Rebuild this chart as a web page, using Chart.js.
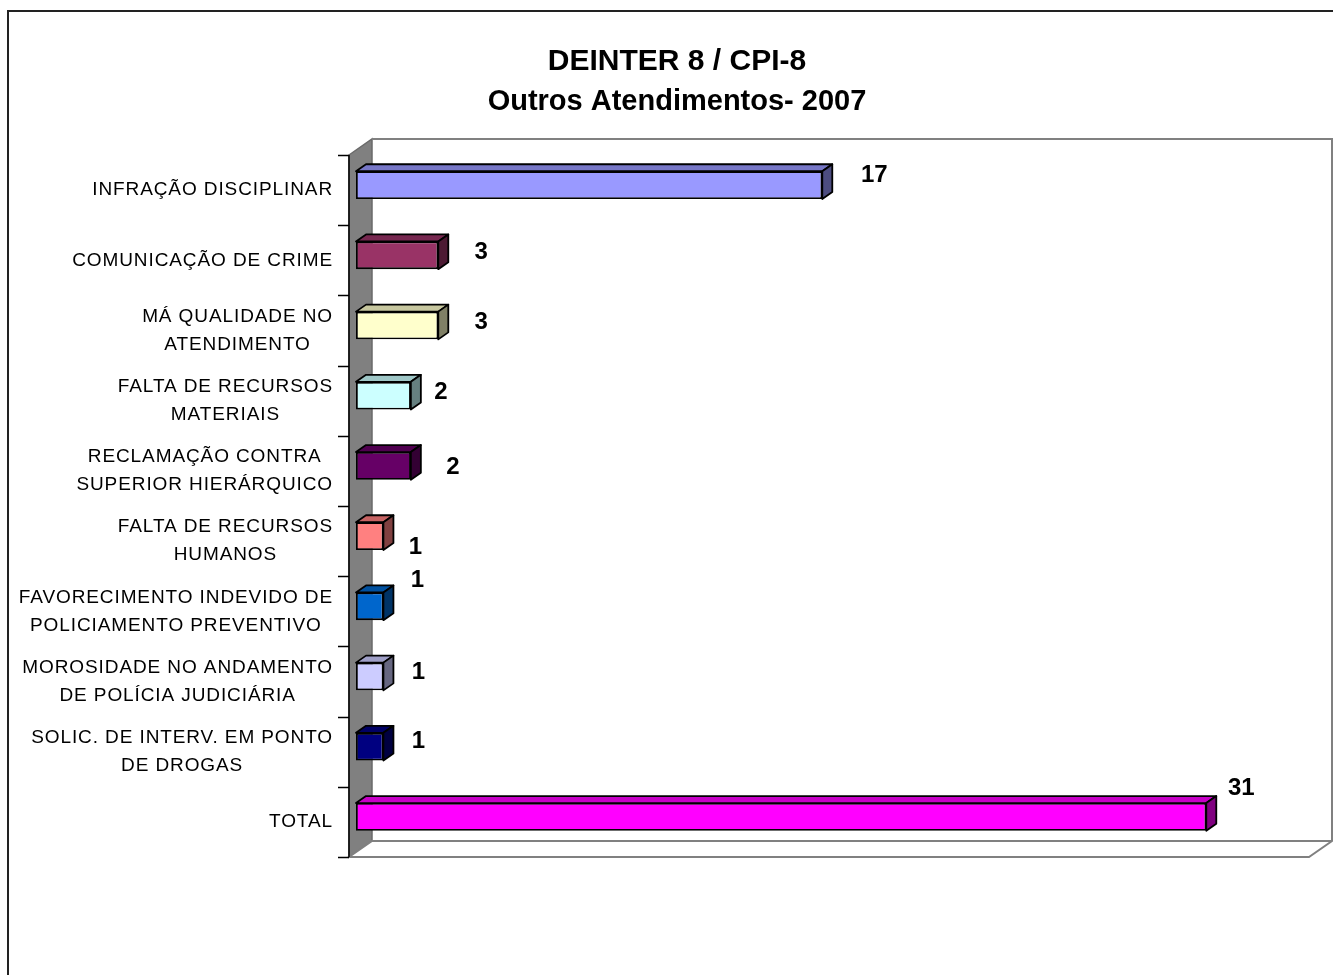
<!DOCTYPE html>
<html>
<head>
<meta charset="utf-8">
<script src="https://cdn.jsdelivr.net/npm/chart.js@4.4.0/dist/chart.umd.min.js"></script>
<style>
  html, body { margin: 0; padding: 0; background: #fff; }
  #grafico { display: block; }
</style>
</head>
<body>
<canvas id="grafico" width="1333" height="975"></canvas>
<script>
// Dados do gráfico
var tituloLinhas = ['DEINTER 8 / CPI-8', 'Outros Atendimentos- 2007'];
var categorias = [
  'INFRAÇÃO DISCIPLINAR',
  'COMUNICAÇÃO DE CRIME',
  ['MÁ QUALIDADE NO', 'ATENDIMENTO'],
  ['FALTA DE RECURSOS', 'MATERIAIS'],
  ['RECLAMAÇÃO CONTRA', 'SUPERIOR HIERÁRQUICO'],
  ['FALTA DE RECURSOS', 'HUMANOS'],
  ['FAVORECIMENTO INDEVIDO DE', 'POLICIAMENTO PREVENTIVO'],
  ['MOROSIDADE NO ANDAMENTO', 'DE POLÍCIA JUDICIÁRIA'],
  ['SOLIC. DE INTERV. EM PONTO', 'DE DROGAS'],
  'TOTAL'
];
var valores = [17, 3, 3, 2, 2, 1, 1, 1, 1, 31];

// Cores das barras (estilo do Excel)
var coresBarras = ['#9999FF', '#993366', '#FFFFCC', '#CCFFFF', '#660066',
  '#FF8080', '#0066CC', '#CCCCFF', '#000080', '#FF00FF'];

// Deslocamento dos rótulos de valor a partir do fim da barra (layout, px)
var ajusteRotulos = [[52, -10], [43, -3], [43, -3], [30, -3], [42, 1],
  [32, 11], [34, -26], [35, -4], [35, -5], [35, -29]];

// Profundidade das paredes, das barras e recuo das barras
var PROF = { dx: 23, dy: -16 };
var BARRA = { dx: 10, dy: -7 };
var RECUO = { dx: 7, dy: -5 };

var FONTE = '"Liberation Sans", Arial, sans-serif';

// Escurece uma cor hex por um fator
function escurecer(hex, f) {
  var n = parseInt(hex.slice(1), 16);
  var r = Math.round(((n >> 16) & 255) * f);
  var g = Math.round(((n >> 8) & 255) * f);
  var b = Math.round((n & 255) * f);
  return 'rgb(' + r + ',' + g + ',' + b + ')';
}

// Plugin que desenha o cenário 3D, faces das barras e os textos
var cenario3d = {
  id: 'cenario3d',
  beforeDraw: function(chart) {
    var ctx = chart.ctx, a = chart.chartArea;
    ctx.save();
    ctx.fillStyle = '#fff';
    ctx.fillRect(0, 0, chart.width, chart.height);
    // moldura externa
    ctx.strokeStyle = '#222';
    ctx.lineWidth = 2;
    ctx.strokeRect(8, 11, 2000, 2000);
    // parede esquerda (cinza)
    ctx.beginPath();
    ctx.moveTo(a.left, a.top);
    ctx.lineTo(a.left + PROF.dx, a.top + PROF.dy);
    ctx.lineTo(a.left + PROF.dx, a.bottom + PROF.dy);
    ctx.lineTo(a.left, a.bottom);
    ctx.closePath();
    ctx.fillStyle = '#808080';
    ctx.fill();
    ctx.strokeStyle = '#6a6a6a';
    ctx.lineWidth = 1.5;
    ctx.stroke();
    // parede do fundo
    ctx.strokeStyle = '#808080';
    ctx.lineWidth = 2;
    ctx.beginPath();
    ctx.moveTo(a.left + PROF.dx, a.top + PROF.dy);
    ctx.lineTo(a.right + PROF.dx, a.top + PROF.dy);
    ctx.lineTo(a.right + PROF.dx, a.bottom + PROF.dy);
    ctx.stroke();
    // piso
    ctx.beginPath();
    ctx.moveTo(a.left, a.bottom);
    ctx.lineTo(a.right, a.bottom);
    ctx.lineTo(a.right + PROF.dx, a.bottom + PROF.dy);
    ctx.lineTo(a.left + PROF.dx, a.bottom + PROF.dy);
    ctx.closePath();
    ctx.fillStyle = '#fff';
    ctx.fill();
    ctx.stroke();
    ctx.restore();
  },
  beforeDatasetsDraw: function(chart) {
    chart.ctx.save();
    chart.ctx.translate(RECUO.dx, RECUO.dy);
  },
  afterDatasetsDraw: function(chart) {
    var ctx = chart.ctx;
    var meta = chart.getDatasetMeta(0);
    ctx.lineWidth = 1.8;
    ctx.strokeStyle = '#000';
    ctx.lineJoin = 'round';
    meta.data.forEach(function(bar, i) {
      var p = bar.getProps(['x', 'y', 'base', 'height'], true);
      var x0 = p.base, x1 = p.x;
      var y0 = p.y - p.height / 2, y1 = p.y + p.height / 2;
      // topo
      ctx.beginPath();
      ctx.moveTo(x0, y0);
      ctx.lineTo(x0 + BARRA.dx, y0 + BARRA.dy);
      ctx.lineTo(x1 + BARRA.dx, y0 + BARRA.dy);
      ctx.lineTo(x1, y0);
      ctx.closePath();
      ctx.fillStyle = escurecer(coresBarras[i], 0.78);
      ctx.fill();
      ctx.stroke();
      // lado
      ctx.beginPath();
      ctx.moveTo(x1, y0);
      ctx.lineTo(x1 + BARRA.dx, y0 + BARRA.dy);
      ctx.lineTo(x1 + BARRA.dx, y1 + BARRA.dy);
      ctx.lineTo(x1, y1);
      ctx.closePath();
      ctx.fillStyle = escurecer(coresBarras[i], 0.5);
      ctx.fill();
      ctx.stroke();
    });
    ctx.restore();
  },
  afterDraw: function(chart) {
    var ctx = chart.ctx, a = chart.chartArea, escalaY = chart.scales.y;
    var meta = chart.getDatasetMeta(0);
    ctx.save();
    // eixo e marcas
    ctx.strokeStyle = '#000';
    ctx.lineWidth = 1.5;
    ctx.beginPath();
    ctx.moveTo(a.left, a.top);
    ctx.lineTo(a.left, a.bottom);
    for (var k = 0; k <= categorias.length; k++) {
      var yt = Math.round(escalaY.getPixelForValue(k - 0.5)) + 0.5;
      ctx.moveTo(a.left - 11, yt);
      ctx.lineTo(a.left, yt);
    }
    ctx.stroke();

    // rótulos das categorias (linhas centradas, bloco alinhado à direita)
    ctx.fillStyle = '#000';
    ctx.textAlign = 'center';
    ctx.textBaseline = 'middle';
    ctx.font = '19px ' + FONTE;
    ctx.letterSpacing = '0.9px';
    categorias.forEach(function(rot, i) {
      var linhas = Array.isArray(rot) ? rot : [rot];
      var larg = Math.max.apply(null, linhas.map(function(l) { return ctx.measureText(l).width; }));
      var cx = a.left - 16 - larg / 2;
      var cy = escalaY.getPixelForValue(i);
      linhas.forEach(function(l, j) {
        ctx.fillText(l, cx, cy + (j - (linhas.length - 1) / 2) * 28);
      });
    });

    // rótulos de valor
    ctx.letterSpacing = '0px';
    ctx.font = 'bold 24px ' + FONTE;
    meta.data.forEach(function(bar, i) {
      ctx.fillText(String(valores[i]),
        bar.x + RECUO.dx + ajusteRotulos[i][0],
        bar.y + RECUO.dy + ajusteRotulos[i][1]);
    });

    // título
    ctx.font = 'bold 30px ' + FONTE;
    ctx.fillText(tituloLinhas[0], 677, 62);
    ctx.font = 'bold 29px ' + FONTE;
    ctx.fillText(tituloLinhas[1], 677, 102);
    ctx.restore();
  }
};

var ctx = document.getElementById('grafico').getContext('2d');
var meuGrafico = new Chart(ctx, {
  type: 'bar',
  data: {
    labels: categorias,
    datasets: [{
      data: valores,
      backgroundColor: coresBarras,
      borderColor: '#000',
      borderWidth: 1.8,
      borderSkipped: false,
      barPercentage: 0.395,
      categoryPercentage: 1
    }]
  },
  options: {
    indexAxis: 'y',
    responsive: false,
    animation: false,
    devicePixelRatio: 1,
    layout: { padding: { left: 349, right: 24, top: 155, bottom: 118 } },
    scales: {
      x: { display: false, min: 0, max: 35 },
      y: { display: false }
    },
    plugins: {
      legend: { display: false },
      tooltip: { enabled: false }
    }
  },
  plugins: [cenario3d]
});
</script>
</body>
</html>
